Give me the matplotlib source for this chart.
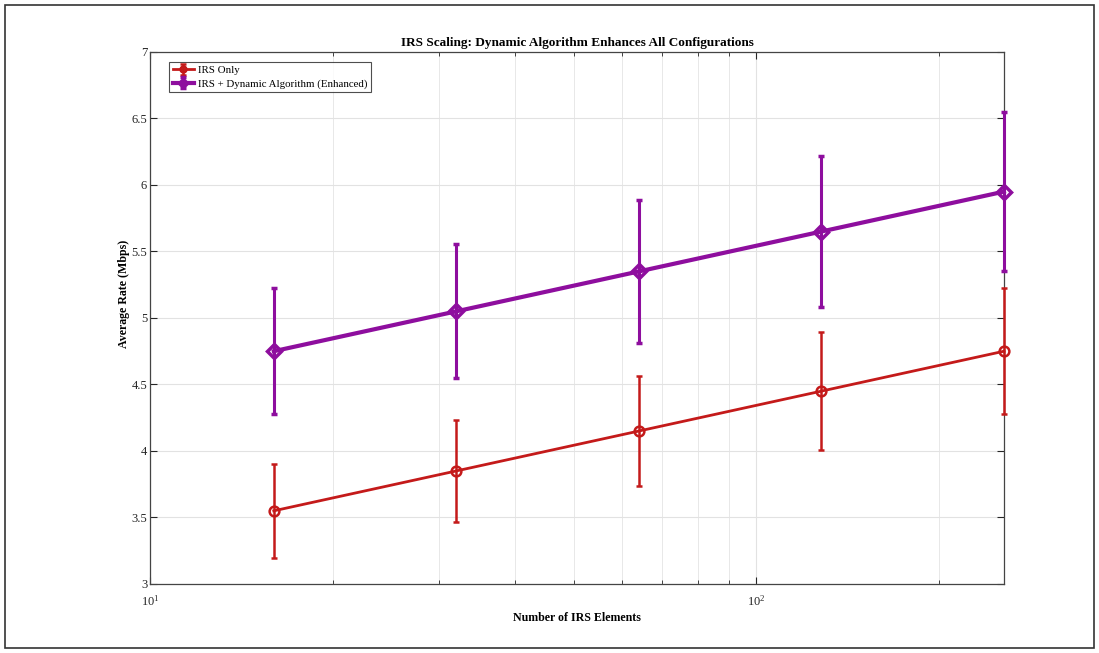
import matplotlib
matplotlib.use("Agg")
import matplotlib.pyplot as plt
from matplotlib.patches import Rectangle

plt.rcParams.update({
    "font.family": ["Liberation Serif", "DejaVu Serif"],
    "mathtext.fontset": "stix",
})

# ---- data ----
n_elements = [16, 32, 64, 128, 256]
rate_irs = [3.55, 3.85, 4.15, 4.45, 4.75]
err_irs = [0.355, 0.385, 0.415, 0.445, 0.475]
rate_dyn = [4.75, 5.05, 5.35, 5.65, 5.95]
err_dyn = [0.475, 0.505, 0.535, 0.565, 0.595]

RED = "#C41A1A"
PURPLE = "#8E0E9E"

fig = plt.figure(figsize=(10.99, 6.53), dpi=100)
fig.patches.append(Rectangle((0.005, 0.008), 0.99, 0.984, transform=fig.transFigure,
                             fill=False, ec="#333333", lw=1.2))
ax = fig.add_axes([0.1365, 0.1057, 0.777, 0.8147])

def unclip(cont):
    line, caps, bars = cont
    line.set_clip_on(False)
    for c in caps:
        c.set_clip_on(False)
    for b in bars:
        b.set_clip_on(False)

e1 = ax.errorbar(n_elements, rate_irs, yerr=err_irs, color=RED, lw=2.0, marker="o",
                 ms=7, mfc="none", mec=RED, mew=1.8, capsize=2.5, capthick=2.5,
                 elinewidth=1.8, label="IRS Only", zorder=3)
e2 = ax.errorbar(n_elements, rate_dyn, yerr=err_dyn, color=PURPLE, lw=3.0, marker="D",
                 ms=7, mfc="none", mec=PURPLE, mew=2.5, capsize=2.5, capthick=2.5,
                 elinewidth=2.2, label="IRS + Dynamic Algorithm (Enhanced)", zorder=3)
unclip(e1)
unclip(e2)

ax.set_xscale("log")
ax.set_xlim(10, 256)
ax.set_ylim(3, 7)
ax.set_yticks([3, 3.5, 4, 4.5, 5, 5.5, 6, 6.5, 7])
ax.set_yticklabels(["3", "3.5", "4", "4.5", "5", "5.5", "6", "6.5", "7"])

ax.grid(True, which="major", color="#e2e2e2", lw=0.8)
ax.grid(True, which="minor", axis="x", color="#e8e8e8", lw=0.7)
ax.set_axisbelow(True)

ax.tick_params(which="both", direction="in", top=True, right=True,
               labelsize=9, colors="#262626", length=5)
ax.tick_params(which="minor", length=3)
ax.tick_params(axis="x", pad=7)
ax.tick_params(axis="y", pad=2)
for s in ax.spines.values():
    s.set_color("#444444")
    s.set_linewidth(0.9)

ax.set_title("IRS Scaling: Dynamic Algorithm Enhances All Configurations",
             fontsize=9.5, fontweight="bold", pad=4)
ax.set_xlabel("Number of IRS Elements", fontsize=8.6, fontweight="bold", labelpad=3)
ax.set_ylabel("Average Rate (Mbps)", fontsize=8.6, fontweight="bold")
ax.yaxis.set_label_coords(-0.024, 0.545)

leg = ax.legend(loc="upper left", bbox_to_anchor=(0.022, 0.982), borderaxespad=0,
                fontsize=7.8, frameon=True, fancybox=False, markerscale=0.6,
                edgecolor="#222222", borderpad=0.35, handlelength=2.0,
                handletextpad=0.3, labelspacing=0.35)
leg.get_frame().set_linewidth(0.8)

fig.savefig("out.png", dpi=100)
